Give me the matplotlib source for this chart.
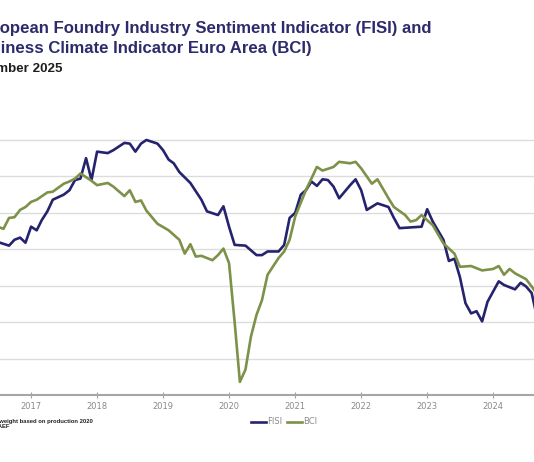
import matplotlib.pyplot as plt
import pandas as pd

# values (FISI and BCI, same scale here)
fisi_months = ["2016-06", "2016-07", "2016-09", "2016-10", "2016-11", "2016-12",
               "2017-01", "2017-02", "2017-03", "2017-04", "2017-05", "2017-07",
               "2017-08", "2017-09", "2017-10", "2017-11", "2017-12", "2018-01",
               "2018-03", "2018-04", "2018-06", "2018-07", "2018-08", "2018-09",
               "2018-10", "2018-12", "2019-01", "2019-02", "2019-03", "2019-04",
               "2019-06", "2019-08", "2019-09", "2019-11", "2019-12", "2020-01",
               "2020-02", "2020-04", "2020-06", "2020-07", "2020-08", "2020-10",
               "2020-11", "2020-12", "2021-01", "2021-02", "2021-03", "2021-04",
               "2021-05", "2021-06", "2021-07", "2021-08", "2021-09", "2021-11",
               "2021-12", "2022-01", "2022-02", "2022-04", "2022-06", "2022-07",
               "2022-08", "2022-10", "2022-12", "2023-01", "2023-02", "2023-04",
               "2023-05", "2023-06", "2023-07", "2023-08", "2023-09", "2023-10",
               "2023-11", "2023-12", "2024-01", "2024-02", "2024-03", "2024-05",
               "2024-06", "2024-07", "2024-08", "2024-09", "2024-10"]
fisi_values = [96.3, 96.0, 95.5, 96.3, 96.6, 95.9,
               98.1, 97.6, 99.0, 100.2, 101.8, 102.5,
               103.1, 104.5, 104.7, 107.5, 104.5, 108.4,
               108.2, 108.6, 109.6, 109.5, 108.4, 109.5,
               110.0, 109.5, 108.6, 107.3, 106.8, 105.6,
               104.1, 101.8, 100.2, 99.7, 100.9, 98.1,
               95.6, 95.5, 94.2, 94.2, 94.7, 94.7,
               95.6, 99.3, 100.0, 102.5, 103.1, 104.3,
               103.7, 104.6, 104.5, 103.6, 102.0, 103.8,
               104.6, 103.1, 100.4, 101.3, 100.8, 99.3,
               97.9, 98.0, 98.1, 100.5, 98.8, 96.3,
               93.4, 93.7, 91.2, 87.6, 86.2, 86.5,
               85.1, 87.8, 89.2, 90.6, 90.1, 89.5,
               90.4, 89.9, 89.0, 85.5, 85.0]

bci_months = ["2016-06", "2016-07", "2016-08", "2016-09", "2016-10", "2016-11",
              "2016-12", "2017-01", "2017-02", "2017-04", "2017-05", "2017-07",
              "2017-08", "2017-09", "2017-10", "2017-12", "2018-01", "2018-03",
              "2018-04", "2018-06", "2018-07", "2018-08", "2018-09", "2018-10",
              "2018-12", "2019-02", "2019-04", "2019-05", "2019-06", "2019-07",
              "2019-08", "2019-10", "2019-11", "2019-12", "2020-01", "2020-02",
              "2020-03", "2020-04", "2020-05", "2020-06", "2020-07", "2020-08",
              "2020-10", "2020-11", "2020-12", "2021-01", "2021-03", "2021-05",
              "2021-06", "2021-08", "2021-09", "2021-11", "2021-12", "2022-01",
              "2022-03", "2022-04", "2022-06", "2022-07", "2022-09", "2022-10",
              "2022-11", "2022-12", "2023-02", "2023-04", "2023-06", "2023-07",
              "2023-09", "2023-11", "2024-01", "2024-02", "2024-03", "2024-04",
              "2024-05", "2024-07", "2024-08", "2024-09"]
bci_values = [98.3, 98.1, 97.8, 99.3, 99.4, 100.4,
              100.8, 101.5, 101.8, 102.8, 102.9, 104.0,
              104.3, 104.7, 105.4, 104.4, 103.8, 104.1,
              103.6, 102.3, 103.1, 101.5, 101.7, 100.3,
              98.5, 97.6, 96.3, 94.4, 95.7, 94.0,
              94.1, 93.5, 94.2, 95.1, 93.1, 85.0,
              76.8, 78.5, 83.0, 86.0, 88.0, 91.5,
              93.8, 94.7, 96.3, 99.5, 103.1, 106.3,
              105.8, 106.3, 107.0, 106.8, 107.0, 106.1,
              104.0, 104.6, 102.0, 100.8, 99.7, 98.8,
              99.0, 99.7, 98.3, 95.8, 94.4, 92.6,
              92.7, 92.1, 92.3, 92.7, 91.5, 92.3,
              91.7, 90.9, 89.9, 88.8]

years = [2017, 2018, 2019, 2020, 2021, 2022, 2023, 2024]

fisi_color = "#25236e"
bci_color = "#7d9148"

fig = plt.figure(figsize=(5.34, 4.62), dpi=100)
ax = fig.add_axes([0.0, 0.145, 1.0, 0.5678])

ax.plot(pd.to_datetime(fisi_months), fisi_values, color=fisi_color, lw=1.9, label="FISI")
ax.plot(pd.to_datetime(bci_months), bci_values, color=bci_color, lw=1.9, label="BCI")

ax.set_xlim(pd.Timestamp("2016-07-13"), pd.Timestamp("2024-08-14"))
ax.set_ylim(75, 111)
ax.set_yticks([75, 80, 85, 90, 95, 100, 105, 110])
ax.yaxis.grid(True, color="#dcdcdc", lw=1.0)
ax.set_axisbelow(True)
ax.tick_params(axis="y", left=False, labelleft=False)

ax.set_xticks([pd.Timestamp(f"{y}-01-01") for y in years])
ax.set_xticklabels([str(y) for y in years])
ax.tick_params(axis="x", direction="inout", length=4, width=0.8, color="#a0a0a0",
               labelsize=6, labelcolor="#8a8a8a", pad=3)

for s in ["left", "right", "top"]:
    ax.spines[s].set_visible(False)
ax.spines["bottom"].set_color("#a6a6a6")
ax.spines["bottom"].set_linewidth(1.5)

# title, cut off on the left as in the source image
fig.text(431.7 / 534, 1 - 32.5 / 462, "European Foundry Industry Sentiment Indicator (FISI) and",
         ha="right", va="baseline", fontsize=12.1, fontweight="bold",
         family="Liberation Sans", color="#2d2b6b")
fig.text(311.7 / 534, 1 - 53.5 / 462, "Business Climate Indicator Euro Area (BCI)",
         ha="right", va="baseline", fontsize=12.1, fontweight="bold",
         family="Liberation Sans", color="#2d2b6b")
fig.text(62.7 / 534, 1 - 72.3 / 462, "September 2025",
         ha="right", va="baseline", fontsize=9.6, fontweight="bold",
         family="Liberation Sans", color="#1e1e1e")

# footnotes
fig.text(93 / 534, 1 - 423 / 462, "Country weight based on production 2020",
         ha="right", va="baseline", fontsize=4.2, fontweight="bold",
         family="Liberation Sans", color="#222222")
fig.text(10 / 534, 1 - 428 / 462, "Source: CAEF",
         ha="right", va="baseline", fontsize=4.2, fontweight="bold",
         family="Liberation Sans", color="#222222")

fig.legend(loc="center", bbox_to_anchor=(284 / 534, 1 - 422 / 462), ncol=2,
           frameon=False, fontsize=6, labelcolor="#8a8a8a", handlelength=1.8,
           handletextpad=0.15, columnspacing=0.6, borderpad=0)

fig.savefig("out.png", dpi=100)
